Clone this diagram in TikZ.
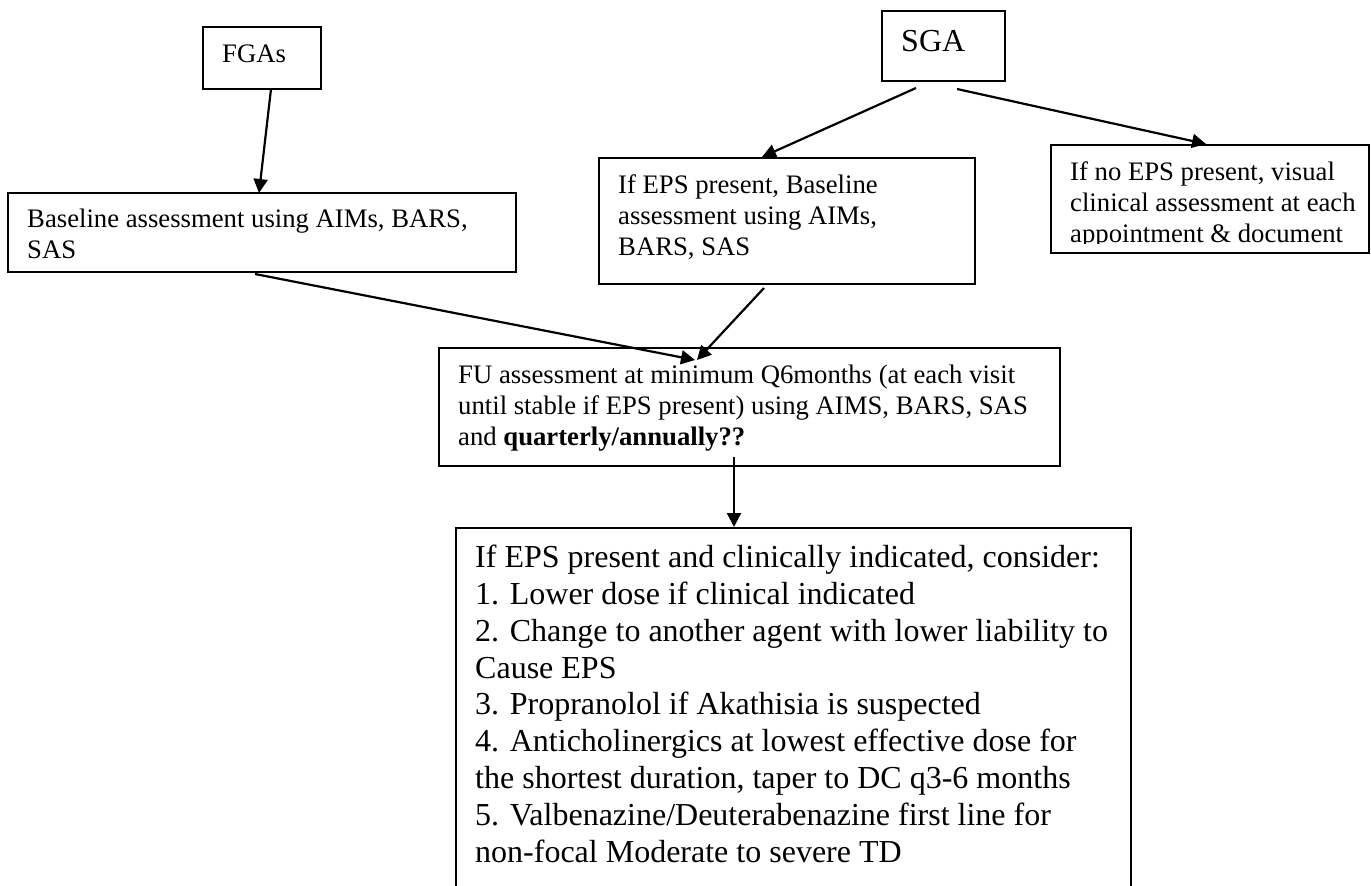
\documentclass[tikz,border=0pt]{standalone}
\usepackage{fontspec}
\setmainfont{Liberation Serif}
\usetikzlibrary{arrows.meta}
\newcommand{\boxfont}{\fontsize{26.7pt}{30.7pt}\selectfont}
\newcommand{\listfont}{\fontsize{32pt}{36.8pt}\selectfont}
\newcommand{\ascstrut}{\rule{0pt}{0.891em}}

\begin{document}
\begin{tikzpicture}[x=1pt,y=-1pt,
  box/.style={draw,line width=2.2pt,rectangle,inner sep=0pt,outer sep=0pt,anchor=north west},
  txt/.style={anchor=north west,inner sep=0pt,align=left,font=\boxfont},
  arr/.style={line width=2.2pt,-{Triangle[length=14pt,width=14pt]}}]
\clip (0,0) rectangle (1371,886);
\fill[white] (0,0) rectangle (1371,886);

\node[box,minimum width=118pt,minimum height=62pt] (fga) at (203,27) {};
\node[txt] (fgatext) at ([xshift=19pt,yshift=-12pt]fga.north west) {\ascstrut FGAs};

\node[box,minimum width=123pt,minimum height=70pt] (sga) at (882,11) {};
\node[txt,font=\listfont] (sgatext) at ([xshift=19pt,yshift=-12pt]sga.north west) {\ascstrut SGA};

\node[box,minimum width=508pt,minimum height=79pt] (base) at (8,193) {};
\node[txt] (basetext) at ([xshift=19pt,yshift=-11pt]base.north west)
  {\ascstrut Baseline assessment using AIMs, BARS,\\SAS};

\node[box,minimum width=376pt,minimum height=126pt] (epsyes) at (599,158) {};
\node[txt] (epsyestext) at ([xshift=19pt,yshift=-12pt]epsyes.north west)
  {\ascstrut If EPS present, Baseline\\assessment using AIMs,\\BARS, SAS};

\node[box,minimum width=318pt,minimum height=108pt] (epsno) at (1051,145) {};
\begin{scope}
\clip (epsno.north west) rectangle ([yshift=9.6pt]epsno.south east);
\node[txt] (epsnotext) at ([xshift=19pt,yshift=-12pt]epsno.north west)
  {\ascstrut If no EPS present, visual\\clinical assessment at each\\appointment \& document};
\end{scope}

\node[box,minimum width=621pt,minimum height=118pt] (fu) at (439,348) {};
\node[txt] (futext) at ([xshift=19pt,yshift=-12pt]fu.north west)
  {\ascstrut FU assessment at minimum Q6months (at each visit\\
   until stable if EPS present) using AIMS, BARS, SAS\\
   and \textbf{quarterly/annually??}};

\node[box,minimum width=675pt,minimum height=380pt] (manage) at (456,528) {};
\node[txt,font=\listfont] (managetext) at ([xshift=19pt,yshift=-11pt]manage.north west)
  {\ascstrut If EPS present and clinically indicated, consider:\\
   1. Lower dose if clinical indicated\\
   2. Change to another agent with lower liability to\\
   Cause EPS\\
   3. Propranolol if Akathisia is suspected\\
   4. Anticholinergics at lowest effective dose for\\
   the shortest duration, taper to DC q3-6 months\\
   5. Valbenazine/Deuterabenazine first line for\\
   non-focal Moderate to severe TD};

\draw[arr] ([xshift=9pt]fga.south) -- ([xshift=-3pt]base.north);
\draw[arr] ([xshift=-27.5pt,yshift=-7pt]sga.south) -- ([xshift=-25pt,yshift=1pt]epsyes.north);
\draw[arr] ([xshift=13.5pt,yshift=-8pt]sga.south) -- ([xshift=155pt,yshift=1pt]epsno.north west);
\draw[arr] ([xshift=-7pt,yshift=-2pt]base.south) -- ([xshift=-54.5pt,yshift=-12pt]fu.north);
\draw[arr] ([xshift=-23pt,yshift=-4pt]epsyes.south) -- ([xshift=-52.5pt,yshift=-12pt]fu.north);
\draw[arr] ([xshift=-15.5pt,yshift=9pt]fu.south) -- ([xshift=-59.5pt,yshift=1pt]manage.north);
\end{tikzpicture}
\end{document}
